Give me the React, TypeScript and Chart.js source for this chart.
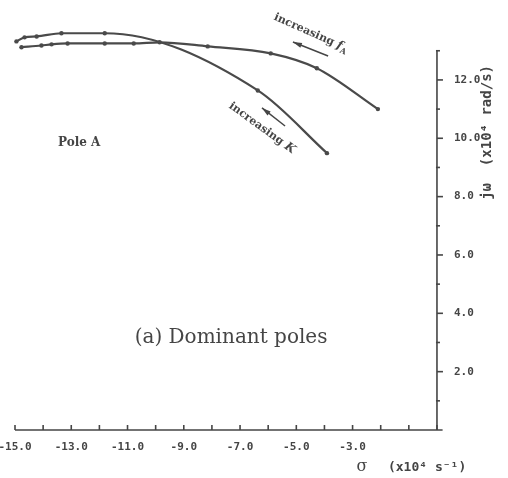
import React, { useEffect, useRef } from "react";
import { Chart, registerables } from "chart.js";

Chart.register(...registerables);

// Pole A locus for increasing f_A  (sigma in x10^4 s^-1, j-omega in x10^4 rad/s)
const fASigma = [-14.77, -14.06, -13.70, -13.13, -11.81, -10.78, -9.86, -8.15, -5.91, -4.27, -2.10];
const fAOmega = [13.12, 13.18, 13.22, 13.25, 13.25, 13.25, 13.29, 13.15, 12.91, 12.40, 11.00];

// Pole A locus for increasing K
const kSigma = [-14.95, -14.66, -14.23, -13.35, -11.81, -6.37, -3.91];
const kOmega = [13.32, 13.46, 13.49, 13.60, 13.60, 11.64, 9.49];

// axis ticks
const xLabelTicks = [-15, -13, -11, -9, -7, -5, -3];
const xAllTicks = [-15, -14, -13, -12, -11, -10, -9, -8, -7, -6, -5, -4, -3, -2, -1, 0];
const yLabelTicks = [2, 4, 6, 8, 10, 12];
const yMinorTicks = [1, 3, 5, 7, 9, 11, 13];

const INK = "#454545";
const MONO = '"DejaVu Sans Mono", monospace';
const SERIF = '"DejaVu Serif", serif';

function drawArrow(ctx: CanvasRenderingContext2D, x1: number, y1: number, x2: number, y2: number) {
  const ang = Math.atan2(y2 - y1, x2 - x1);
  ctx.beginPath();
  ctx.moveTo(x1, y1);
  ctx.lineTo(x2, y2);
  ctx.stroke();
  const hl = 9, hw = 2.6;
  const c = Math.cos(ang), s = Math.sin(ang);
  ctx.beginPath();
  ctx.moveTo(x2, y2);
  ctx.lineTo(x2 - hl * c + hw * s, y2 - hl * s - hw * c);
  ctx.lineTo(x2 - hl * c - hw * s, y2 - hl * s + hw * c);
  ctx.closePath();
  ctx.fill();
}

const decorPlugin = {
  id: "decor",
  beforeDraw(chart: any) {
    const ctx = chart.ctx;
    ctx.save();
    ctx.fillStyle = "#ffffff";
    ctx.fillRect(0, 0, chart.width, chart.height);
    ctx.restore();
  },
  afterDraw(chart: any) {
    const ctx: CanvasRenderingContext2D = chart.ctx;
    const xs = chart.scales.x;
    const ys = chart.scales.y;
    const px = (v: number) => xs.getPixelForValue(v);
    const py = (v: number) => ys.getPixelForValue(v);
    const x0 = px(0);
    const y0 = py(0);
    ctx.save();
    ctx.strokeStyle = INK;
    ctx.fillStyle = INK;
    ctx.lineWidth = 1.6;

    // x axis
    ctx.beginPath();
    ctx.moveTo(px(-15), y0);
    ctx.lineTo(px(0.2), y0);
    ctx.stroke();
    xAllTicks.forEach((v) => {
      ctx.beginPath();
      ctx.moveTo(px(v), y0);
      ctx.lineTo(px(v), y0 - 5);
      ctx.stroke();
    });
    ctx.font = `bold 11px ${MONO}`;
    ctx.textAlign = "center";
    ctx.textBaseline = "middle";
    xLabelTicks.forEach((v) => {
      ctx.fillText(v.toFixed(1), px(v), y0 + 17);
    });

    // y axis
    ctx.beginPath();
    ctx.moveTo(x0, y0);
    ctx.lineTo(x0, py(13));
    ctx.stroke();
    yLabelTicks.forEach((v) => {
      ctx.beginPath();
      ctx.moveTo(x0, py(v));
      ctx.lineTo(x0 + 6, py(v));
      ctx.stroke();
    });
    yMinorTicks.forEach((v) => {
      ctx.beginPath();
      ctx.moveTo(x0 - 1, py(v));
      ctx.lineTo(x0 + 3, py(v));
      ctx.stroke();
    });
    ctx.textAlign = "left";
    yLabelTicks.forEach((v) => {
      ctx.fillText(v.toFixed(1), x0 + 17, py(v));
    });

    // axis titles
    ctx.font = `16px ${SERIF}`;
    ctx.textAlign = "center";
    ctx.fillText("σ", x0 - 75, y0 + 37);
    ctx.font = `bold 13px ${MONO}`;
    ctx.textAlign = "left";
    ctx.fillText("(x10⁴ s⁻¹)", x0 - 49, y0 + 38);

    ctx.save();
    ctx.translate(x0 + 50, py(10.2));
    ctx.rotate(-Math.PI / 2);
    ctx.textAlign = "center";
    ctx.font = `bold 14px ${MONO}`;
    ctx.fillText("jω  (x10⁴ rad/s)", 0, 0);
    ctx.restore();

    // Pole A
    ctx.font = `bold 12px ${SERIF}`;
    ctx.textAlign = "left";
    ctx.fillText("Pole A", px(-13.47), py(9.84));

    // caption
    ctx.font = `20px ${SERIF}`;
    ctx.textAlign = "center";
    ctx.fillText("(a) Dominant poles", px(-7.32), py(3.15));

    // increasing f_A
    ctx.save();
    ctx.translate(px(-4.48), py(13.61));
    ctx.rotate((24 * Math.PI) / 180);
    ctx.font = `bold 11px ${SERIF}`;
    const t1 = "increasing ";
    const w1 = ctx.measureText(t1).width;
    ctx.font = `italic bold 12px ${SERIF}`;
    const wf = ctx.measureText("f").width;
    ctx.font = `bold 8px ${SERIF}`;
    const wA = ctx.measureText("A").width;
    let sx = -(w1 + wf + wA) / 2;
    ctx.textAlign = "left";
    ctx.font = `bold 11px ${SERIF}`;
    ctx.fillText(t1, sx, 0);
    sx += w1;
    ctx.font = `italic bold 12px ${SERIF}`;
    ctx.fillText("f", sx, 0);
    sx += wf;
    ctx.font = `bold 8px ${SERIF}`;
    ctx.fillText("A", sx, 4);
    ctx.restore();

    // increasing K
    ctx.save();
    ctx.translate(px(-6.22), py(10.35));
    ctx.rotate((36 * Math.PI) / 180);
    ctx.font = `bold 11px ${SERIF}`;
    const w2 = ctx.measureText(t1).width;
    ctx.font = `italic bold 12px ${SERIF}`;
    const wK = ctx.measureText("K").width;
    let kx = -(w2 + wK) / 2;
    ctx.textAlign = "left";
    ctx.font = `bold 11px ${SERIF}`;
    ctx.fillText(t1, kx, 0);
    kx += w2;
    ctx.font = `italic bold 12px ${SERIF}`;
    ctx.fillText("K", kx, 0);
    ctx.restore();

    // arrows
    ctx.lineWidth = 1.5;
    drawArrow(ctx, px(-3.87), py(12.82), px(-5.12), py(13.3));
    drawArrow(ctx, px(-5.4), py(10.42), px(-6.22), py(11.04));

    ctx.restore();
  },
};

export default function App() {
  const ref = useRef<HTMLCanvasElement | null>(null);
  useEffect(() => {
    if (!ref.current) return;
    const mk = (xsArr: number[], ysArr: number[]) => xsArr.map((x, i) => ({ x, y: ysArr[i] }));
    const common = {
      showLine: true,
      borderColor: "#4a4a4a",
      backgroundColor: "#4a4a4a",
      borderWidth: 2.2,
      pointRadius: 2.2,
      pointBorderWidth: 0,
      pointBackgroundColor: "#4a4a4a",
      cubicInterpolationMode: "monotone" as const,
      clip: false as const,
    };
    const chart = new Chart(ref.current, {
      type: "scatter",
      data: {
        datasets: [
          { label: "increasing fA", data: mk(fASigma, fAOmega), ...common },
          { label: "increasing K", data: mk(kSigma, kOmega), ...common },
        ],
      },
      options: {
        animation: false,
        responsive: false,
        devicePixelRatio: 1,
        layout: { padding: { left: 15, right: 64, top: 7, bottom: 48 } },
        plugins: { legend: { display: false }, tooltip: { enabled: false } },
        scales: {
          x: { type: "linear", min: -15, max: 0.25, display: false },
          y: { type: "linear", min: 0, max: 14.5, display: false },
        },
      },
      plugins: [decorPlugin],
    });
    return () => chart.destroy();
  }, []);
  return (
    <div style={{ position: "absolute", left: 0, top: 0, width: 508, height: 478 }}>
      <canvas ref={ref} width={508} height={478} style={{ display: "block" }} />
    </div>
  );
}
